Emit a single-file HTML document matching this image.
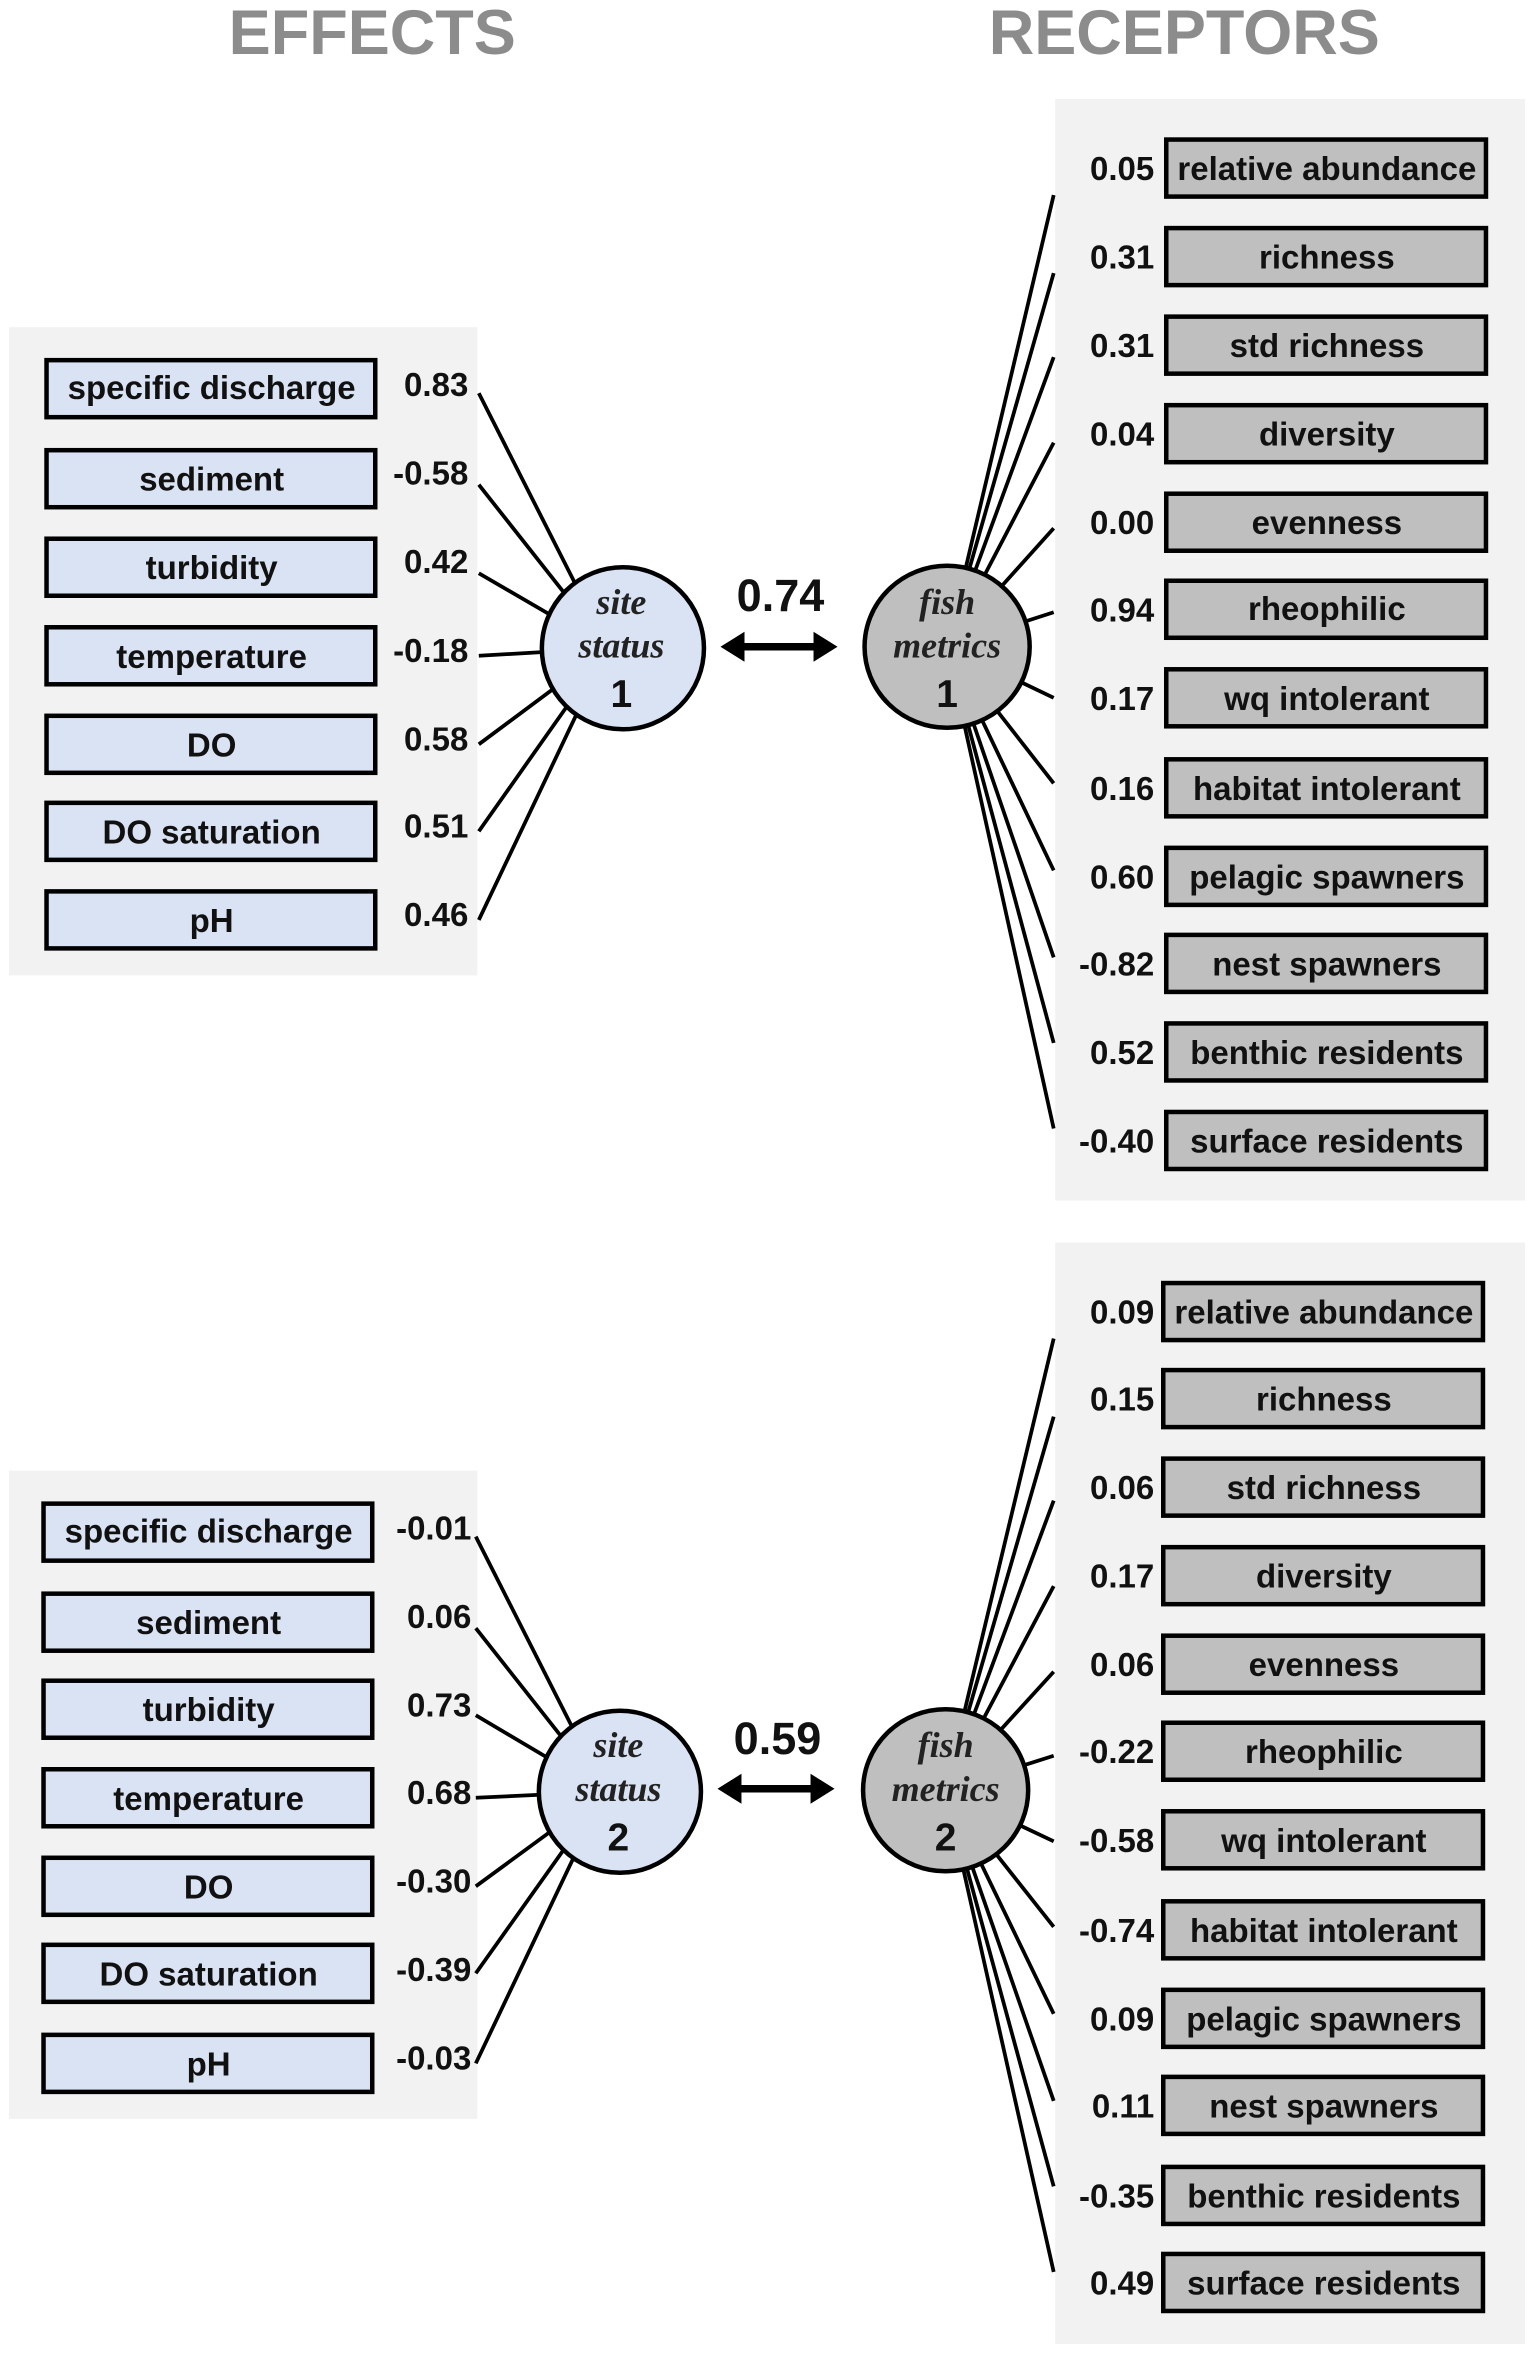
<!DOCTYPE html>
<html><head><meta charset="utf-8"><style>
html,body{margin:0;padding:0;background:#fff}
svg{display:block}
text{font-family:"Liberation Sans",Arial,sans-serif}
.b{font-weight:bold;font-size:22px;text-anchor:middle;fill:#111}
.v{font-weight:bold;font-size:22px;text-anchor:end;fill:#111}
.t{font-weight:bold;font-size:42px;text-anchor:middle;fill:#8c8c8c}
.e{font-family:"Liberation Serif",serif;font-style:italic;font-weight:bold;font-size:24px;text-anchor:middle;fill:#222}
.n{font-weight:bold;font-size:26px;text-anchor:middle;fill:#111}
.lb{fill:#dae3f3;stroke:#000;stroke-width:3}
.gb{fill:#bfbfbf;stroke:#000;stroke-width:3}
.l{stroke:#000;stroke-width:2.5}
</style></head><body>
<svg width="1534" height="2356" viewBox="0 0 1022 1570" preserveAspectRatio="none">
<text class="t" x="248" y="36">EFFECTS</text>
<text class="t" x="789" y="36">RECEPTORS</text>

<!-- ===== TOP ===== -->
<rect x="6" y="218" width="312" height="432" fill="#f2f2f2"/>
<rect x="703" y="66" width="313" height="734" fill="#f2f2f2"/>
<g class="l">
<line x1="319" y1="262" x2="405" y2="432"/><line x1="319" y1="323" x2="405" y2="432"/>
<line x1="319" y1="382" x2="405" y2="432"/><line x1="319" y1="437" x2="405" y2="432"/>
<line x1="319" y1="496" x2="405" y2="432"/><line x1="319" y1="554" x2="405" y2="432"/>
<line x1="319" y1="613" x2="405" y2="432"/>
<line x1="702" y1="130" x2="631" y2="431"/><line x1="702" y1="182" x2="631" y2="431"/>
<line x1="702" y1="238" x2="631" y2="431"/><line x1="702" y1="295" x2="631" y2="431"/>
<line x1="702" y1="352" x2="631" y2="431"/><line x1="702" y1="408" x2="631" y2="431"/>
<line x1="702" y1="465" x2="631" y2="431"/><line x1="702" y1="522" x2="631" y2="431"/>
<line x1="702" y1="580" x2="631" y2="431"/><line x1="702" y1="638" x2="631" y2="431"/>
<line x1="702" y1="695" x2="631" y2="431"/><line x1="702" y1="752" x2="631" y2="431"/>
</g>
<g class="lb">
<rect x="31" y="240" width="219" height="38"/><rect x="31" y="300" width="219" height="38"/>
<rect x="31" y="359" width="219" height="38"/><rect x="31" y="418" width="219" height="38"/>
<rect x="31" y="477" width="219" height="38"/><rect x="31" y="535" width="219" height="38"/>
<rect x="31" y="594" width="219" height="38"/>
</g>
<text class="b" x="141" y="266">specific discharge</text>
<text class="b" x="141" y="327">sediment</text>
<text class="b" x="141" y="386">turbidity</text>
<text class="b" x="141" y="445">temperature</text>
<text class="b" x="141" y="504">DO</text>
<text class="b" x="141" y="562">DO saturation</text>
<text class="b" x="141" y="621">pH</text>
<text class="v" x="312" y="264">0.83</text>
<text class="v" x="312" y="323">-0.58</text>
<text class="v" x="312" y="382">0.42</text>
<text class="v" x="312" y="441">-0.18</text>
<text class="v" x="312" y="500">0.58</text>
<text class="v" x="312" y="558">0.51</text>
<text class="v" x="312" y="617">0.46</text>

<ellipse cx="415" cy="432" rx="54" ry="54" fill="#dae3f3" stroke="#000" stroke-width="3"/>
<text class="e" x="414" y="409">site</text>
<text class="e" x="414" y="438">status</text>
<text class="n" x="414" y="471">1</text>
<ellipse cx="631" cy="431" rx="55" ry="54" fill="#bfbfbf" stroke="#000" stroke-width="3"/>
<text class="e" x="631" y="409">fish</text>
<text class="e" x="631" y="438">metrics</text>
<text class="n" x="631" y="471">1</text>
<text class="n" x="520" y="407" style="font-size:30px">0.74</text>
<line x1="492" y1="431" x2="546" y2="431" stroke="#000" stroke-width="5"/>
<polygon points="480,431 496,421 496,441" fill="#000"/>
<polygon points="558,431 542,421 542,441" fill="#000"/>

<g class="gb">
<rect x="777" y="93" width="213" height="38"/><rect x="777" y="152" width="213" height="38"/>
<rect x="777" y="211" width="213" height="38"/><rect x="777" y="270" width="213" height="38"/>
<rect x="777" y="329" width="213" height="38"/><rect x="777" y="387" width="213" height="38"/>
<rect x="777" y="446" width="213" height="38"/><rect x="777" y="506" width="213" height="38"/>
<rect x="777" y="565" width="213" height="38"/><rect x="777" y="623" width="213" height="38"/>
<rect x="777" y="682" width="213" height="38"/><rect x="777" y="741" width="213" height="38"/>
</g>
<text class="b" x="884" y="120">relative abundance</text>
<text class="b" x="884" y="179">richness</text>
<text class="b" x="884" y="238">std richness</text>
<text class="b" x="884" y="297">diversity</text>
<text class="b" x="884" y="356">evenness</text>
<text class="b" x="884" y="413">rheophilic</text>
<text class="b" x="884" y="473">wq intolerant</text>
<text class="b" x="884" y="533">habitat intolerant</text>
<text class="b" x="884" y="592">pelagic spawners</text>
<text class="b" x="884" y="650">nest spawners</text>
<text class="b" x="884" y="709">benthic residents</text>
<text class="b" x="884" y="768">surface residents</text>
<text class="v" x="769" y="120">0.05</text>
<text class="v" x="769" y="179">0.31</text>
<text class="v" x="769" y="238">0.31</text>
<text class="v" x="769" y="297">0.04</text>
<text class="v" x="769" y="356">0.00</text>
<text class="v" x="769" y="414">0.94</text>
<text class="v" x="769" y="473">0.17</text>
<text class="v" x="769" y="533">0.16</text>
<text class="v" x="769" y="592">0.60</text>
<text class="v" x="769" y="650">-0.82</text>
<text class="v" x="769" y="709">0.52</text>
<text class="v" x="769" y="768">-0.40</text>

<!-- ===== BOTTOM ===== -->
<rect x="6" y="980" width="312" height="432" fill="#f2f2f2"/>
<rect x="703" y="828" width="313" height="734" fill="#f2f2f2"/>
<g class="l">
<line x1="317" y1="1024" x2="403" y2="1194"/><line x1="317" y1="1085" x2="403" y2="1194"/>
<line x1="317" y1="1143" x2="403" y2="1194"/><line x1="317" y1="1198" x2="403" y2="1194"/>
<line x1="317" y1="1257" x2="403" y2="1194"/><line x1="317" y1="1315" x2="403" y2="1194"/>
<line x1="317" y1="1375" x2="403" y2="1194"/>
<line x1="702" y1="892" x2="630" y2="1193"/><line x1="702" y1="944" x2="630" y2="1193"/>
<line x1="702" y1="1000" x2="630" y2="1193"/><line x1="702" y1="1057" x2="630" y2="1193"/>
<line x1="702" y1="1114" x2="630" y2="1193"/><line x1="702" y1="1170" x2="630" y2="1193"/>
<line x1="702" y1="1227" x2="630" y2="1193"/><line x1="702" y1="1284" x2="630" y2="1193"/>
<line x1="702" y1="1342" x2="630" y2="1193"/><line x1="702" y1="1400" x2="630" y2="1193"/>
<line x1="702" y1="1457" x2="630" y2="1193"/><line x1="702" y1="1514" x2="630" y2="1193"/>
</g>
<g class="lb">
<rect x="29" y="1002" width="219" height="38"/><rect x="29" y="1062" width="219" height="38"/>
<rect x="29" y="1120" width="219" height="38"/><rect x="29" y="1179" width="219" height="38"/>
<rect x="29" y="1238" width="219" height="38"/><rect x="29" y="1296" width="219" height="38"/>
<rect x="29" y="1356" width="219" height="38"/>
</g>
<text class="b" x="139" y="1028">specific discharge</text>
<text class="b" x="139" y="1089">sediment</text>
<text class="b" x="139" y="1147">turbidity</text>
<text class="b" x="139" y="1206">temperature</text>
<text class="b" x="139" y="1265">DO</text>
<text class="b" x="139" y="1323">DO saturation</text>
<text class="b" x="139" y="1383">pH</text>
<text class="v" x="314" y="1026">-0.01</text>
<text class="v" x="314" y="1085">0.06</text>
<text class="v" x="314" y="1144">0.73</text>
<text class="v" x="314" y="1202">0.68</text>
<text class="v" x="314" y="1261">-0.30</text>
<text class="v" x="314" y="1320">-0.39</text>
<text class="v" x="314" y="1379">-0.03</text>

<ellipse cx="413" cy="1194" rx="54" ry="54" fill="#dae3f3" stroke="#000" stroke-width="3"/>
<text class="e" x="412" y="1171">site</text>
<text class="e" x="412" y="1200">status</text>
<text class="n" x="412" y="1233">2</text>
<ellipse cx="630" cy="1193" rx="55" ry="54" fill="#bfbfbf" stroke="#000" stroke-width="3"/>
<text class="e" x="630" y="1171">fish</text>
<text class="e" x="630" y="1200">metrics</text>
<text class="n" x="630" y="1233">2</text>
<text class="n" x="518" y="1169" style="font-size:30px">0.59</text>
<line x1="490" y1="1192" x2="544" y2="1192" stroke="#000" stroke-width="5"/>
<polygon points="478,1192 494,1182 494,1202" fill="#000"/>
<polygon points="556,1192 540,1182 540,1202" fill="#000"/>

<g class="gb">
<rect x="775" y="855" width="213" height="38"/><rect x="775" y="913" width="213" height="38"/>
<rect x="775" y="972" width="213" height="38"/><rect x="775" y="1031" width="213" height="38"/>
<rect x="775" y="1090" width="213" height="38"/><rect x="775" y="1148" width="213" height="38"/>
<rect x="775" y="1207" width="213" height="38"/><rect x="775" y="1267" width="213" height="38"/>
<rect x="775" y="1326" width="213" height="38"/><rect x="775" y="1384" width="213" height="38"/>
<rect x="775" y="1444" width="213" height="38"/><rect x="775" y="1502" width="213" height="38"/>
</g>
<text class="b" x="882" y="882">relative abundance</text>
<text class="b" x="882" y="940">richness</text>
<text class="b" x="882" y="999">std richness</text>
<text class="b" x="882" y="1058">diversity</text>
<text class="b" x="882" y="1117">evenness</text>
<text class="b" x="882" y="1175">rheophilic</text>
<text class="b" x="882" y="1234">wq intolerant</text>
<text class="b" x="882" y="1294">habitat intolerant</text>
<text class="b" x="882" y="1353">pelagic spawners</text>
<text class="b" x="882" y="1411">nest spawners</text>
<text class="b" x="882" y="1471">benthic residents</text>
<text class="b" x="882" y="1529">surface residents</text>
<text class="v" x="769" y="882">0.09</text>
<text class="v" x="769" y="940">0.15</text>
<text class="v" x="769" y="999">0.06</text>
<text class="v" x="769" y="1058">0.17</text>
<text class="v" x="769" y="1117">0.06</text>
<text class="v" x="769" y="1175">-0.22</text>
<text class="v" x="769" y="1234">-0.58</text>
<text class="v" x="769" y="1294">-0.74</text>
<text class="v" x="769" y="1353">0.09</text>
<text class="v" x="769" y="1411">0.11</text>
<text class="v" x="769" y="1471">-0.35</text>
<text class="v" x="769" y="1529">0.49</text>
</svg>
</body></html>
